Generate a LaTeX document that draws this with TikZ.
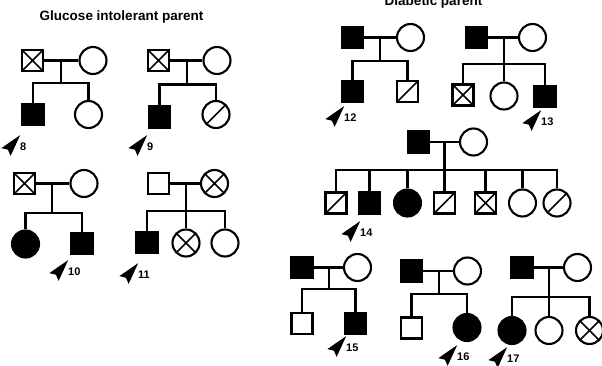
\documentclass[tikz,border=0pt]{standalone}
\usepackage{fontspec}
\setmainfont{Liberation Sans}
\usetikzlibrary{calc}

% proband pointer: a dart at #2 aimed up-right, numbered #3
\newcommand\probarrow[3]{%
  \coordinate (#1) at #2;
  \fill[shift={(#1)}, rotate=50] (22pt,0pt) -- (9pt,3.6pt) -- (0pt,6pt) -- (3pt,0pt) -- (0pt,-6pt) -- (9pt,-3.6pt) -- cycle;
  \node[plabel, anchor=west] (#1l) at ($(#1)+(14,-5)$) {#3};
}

\tikzset{
  ped/.style={line width=2.3pt},
  sq/.style={draw, rectangle, minimum size=21pt, inner sep=0pt, line width=2.1pt},
  ci/.style={draw, circle, minimum size=27pt, inner sep=0pt, line width=2.1pt},
  aff/.style={fill=black},
  cross/.style={path picture={\draw[line width=1.7pt]
      (path picture bounding box.south west) -- (path picture bounding box.north east)
      (path picture bounding box.north west) -- (path picture bounding box.south east);}},
  slash/.style={path picture={\draw[line width=1.7pt]
      (path picture bounding box.south west) -- (path picture bounding box.north east);}},
  title/.style={font=\bfseries\fontsize{13.5}{15}\selectfont, inner sep=0pt},
  plabel/.style={font=\bfseries\fontsize{11}{12}\selectfont, inner sep=0pt},
}

\begin{document}
\begin{tikzpicture}[x=1pt, y=-1pt]
\useasboundingbox (0,0) rectangle (602,366);

% headings
\node[title, anchor=base] (t1) at (121.5,21) {Glucose intolerant parent};
\node[title, anchor=base] (t2) at (433.5,5.5) {Diabetic parent};

% ---------- family A ----------
\node[sq, cross] (a1) at (32.5,60.5) {};
\node[ci] (a2) at (93,60.5) {};
\coordinate (a0) at (61,60.5);
\coordinate (as) at (61,83);
\node[sq, aff] (a3) at (33,114.5) {};
\node[ci] (a4) at (88.5,114.5) {};
\draw[ped] (a1) -- (a2);
\draw[ped] (a0) -- (as);
\draw[ped] (a3.north) |- (as) -| (a4.north);
\probarrow{pa}{(6,152)}{8}

% ---------- family B ----------
\node[sq, cross] (b1) at (158.5,60.5) {};
\node[ci] (b2) at (217,60.5) {};
\coordinate (b0) at (187,60.5);
\coordinate (bs) at (187,84.5);
\node[sq, aff] (b3) at (159.5,117) {};
\node[ci, slash] (b4) at (216,114.5) {};
\draw[ped] (b1) -- (b2);
\draw[ped] (b0) -- (bs);
\draw[ped] (b3.north) |- (bs) -| (b4.north);
\probarrow{pb}{(133,152)}{9}

% ---------- family C ----------
\node[sq, cross] (c1) at (24.5,183.5) {};
\node[ci] (c2) at (84,183.5) {};
\coordinate (c0) at (52,183.5);
\coordinate (cs) at (52,213);
\node[ci, aff] (c3) at (25.5,244) {};
\node[sq, aff] (c4) at (82,243.5) {};
\draw[ped] (c1) -- (c2);
\draw[ped] (c0) -- (cs);
\draw[ped] (c3.north) |- (cs) -| (c4.north);
\probarrow{pc}{(54,277)}{10}

% ---------- family D ----------
\node[sq] (d1) at (158.5,183.5) {};
\node[ci, cross] (d2) at (214.5,183.5) {};
\coordinate (d0) at (186,183.5);
\coordinate (ds) at (186,211);
\node[sq, aff] (d3) at (147,242.5) {};
\node[ci, cross] (d4) at (186,243) {};
\node[ci] (d5) at (225,243) {};
\draw[ped] (d1) -- (d2);
\draw[ped] (d0) -- (d4);
\draw[ped] (d3.north) |- (ds) -| (d5.north);
\probarrow{pd}{(124,280)}{11}

% ---------- family E ----------
\node[sq, aff] (e1) at (352.5,37.5) {};
\node[ci] (e2) at (410.5,37.5) {};
\coordinate (e0) at (380,37.5);
\coordinate (es) at (380,61);
\node[sq, aff] (e3) at (352.5,91.5) {};
\node[sq, slash] (e4) at (407.5,91.5) {};
\draw[ped] (e1) -- (e2);
\draw[ped] (e0) -- (es);
\draw[ped] (e3.north) |- (es) -| (e4.north);
\probarrow{pe}{(330,123)}{12}

% ---------- family F ----------
\node[sq, aff] (f1) at (476.5,37.5) {};
\node[ci] (f2) at (532.5,37.5) {};
\coordinate (f0) at (504,37.5);
\coordinate (fs) at (504,64);
\node[sq, cross] (f3) at (463,95) {};
\node[ci] (f4) at (504,96) {};
\node[sq, aff] (f5) at (545,96.5) {};
\draw[ped] (f1) -- (f2);
\draw[ped] (f0) -- (f4);
\draw[ped] (f3.north) |- (fs) -| (f5.north);
\probarrow{pf}{(527,127)}{13}

% ---------- family G ----------
\node[sq, aff] (g1) at (418.5,142) {};
\node[ci] (g2) at (473.5,142) {};
\coordinate (g0) at (444.5,142);
\coordinate (gs) at (444.5,170);
\node[sq, slash] (g3) at (336,203) {};
\node[sq, aff] (g4) at (369.5,203) {};
\node[ci, aff] (g5) at (407.5,203) {};
\node[sq, slash] (g6) at (444.5,203) {};
\node[sq, cross] (g7) at (485.5,203) {};
\node[ci] (g8) at (522.5,203) {};
\node[ci, slash] (g9) at (557,203) {};
\draw[ped] (g1) -- (g2);
\draw[ped] (g0) -- (g6);
\draw[ped] (g3.north) |- (gs) -| (g9.north);
\foreach \k in {g4,g5,g7,g8} \draw[ped] (\k.north) -- (\k.north |- gs);
\probarrow{pg}{(346,238)}{14}

% ---------- family H ----------
\node[sq, aff] (h1) at (302,267.5) {};
\node[ci] (h2) at (357.5,267.5) {};
\coordinate (h0) at (329,267.5);
\coordinate (hs) at (329,289);
\node[sq] (h3) at (302,323.5) {};
\node[sq, aff] (h4) at (355.5,323.5) {};
\draw[ped] (h1) -- (h2);
\draw[ped] (h0) -- (hs);
\draw[ped] (h3.north) |- (hs) -| (h4.north);
\probarrow{ph}{(332,353)}{15}

% ---------- family I ----------
\node[sq, aff] (i1) at (411.5,271) {};
\node[ci] (i2) at (467.5,271) {};
\coordinate (i0) at (439,271);
\coordinate (is) at (439,294);
\node[sq] (i3) at (411.5,328) {};
\node[ci, aff] (i4) at (467,327.5) {};
\draw[ped] (i1) -- (i2);
\draw[ped] (i0) -- (is);
\draw[ped] (i3.north) |- (is) -| (i4.north);
\probarrow{pi}{(443,362)}{16}

% ---------- family J ----------
\node[sq, aff] (j1) at (522,267.5) {};
\node[ci] (j2) at (577.5,267.5) {};
\coordinate (j0) at (549,267.5);
\coordinate (js) at (549,297);
\node[ci, aff] (j3) at (512,330.5) {};
\node[ci] (j4) at (549,330.5) {};
\node[ci, cross] (j5) at (589.5,330.5) {};
\draw[ped] (j1) -- (j2);
\draw[ped] (j0) -- (j4);
\draw[ped] (j3.north) |- (js) -| (j5.north);
\probarrow{pj}{(493,364)}{17}
\end{tikzpicture}
\end{document}
